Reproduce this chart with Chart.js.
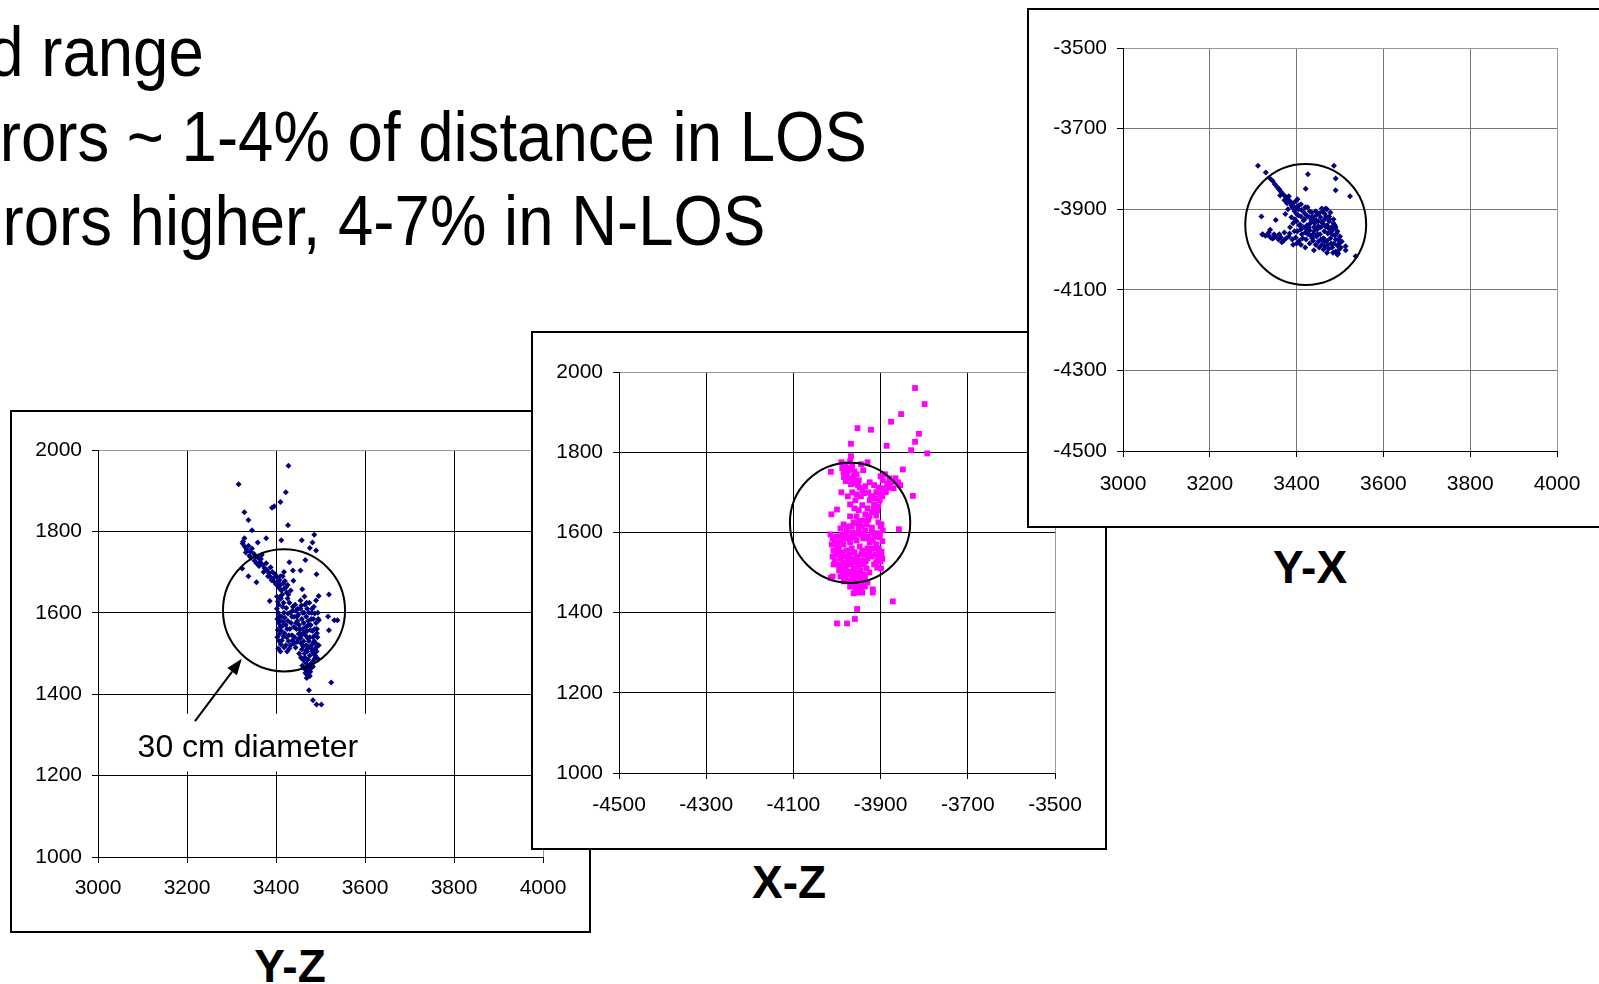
<!DOCTYPE html>
<html>
<head>
<meta charset="utf-8">
<script src="https://cdn.jsdelivr.net/npm/chart.js@4.4.0/dist/chart.umd.min.js"></script>
<style>
  html, body { margin: 0; padding: 0; background: #fff; }
  body { position: relative; width: 1599px; height: 984px; overflow: hidden; font-family: 'Liberation Sans', Arial, sans-serif; color: #000; }
  .line { position: absolute; font-size: 71px; line-height: 71px; white-space: nowrap; transform: scaleX(0.895); transform-origin: right center; }
  .frame { position: absolute; box-sizing: border-box; border: 2px solid #000; background: #fff; }
  .frame canvas { display: block; }
  .label { position: absolute; font-size: 46px; line-height: 46px; font-weight: bold; white-space: nowrap; transform: translateX(-50%); }
</style>
</head>
<body>

<div class="line" style="right:1395px; top:16px">d range</div>
<div class="line" style="right:732px; top:101px">rors ~ 1-4% of distance in LOS</div>
<div class="line" style="right:834px; top:185px">rors higher, 4-7% in N-LOS</div>

<div class="frame" style="left:10px; top:410px; width:581px; height:523px"><canvas id="yz" width="577" height="519"></canvas></div>
<div class="frame" style="left:531px; top:331px; width:576px; height:519px"><canvas id="xz" width="572" height="515"></canvas></div>
<div class="frame" style="left:1027px; top:8px; width:604px; height:520px"><canvas id="yx" width="600" height="516"></canvas></div>

<div class="label" style="left:290px; top:943px">Y-Z</div>
<div class="label" style="left:789px; top:859px">X-Z</div>
<div class="label" style="left:1310px; top:544px">Y-X</div>

<script>
// ---- tick labels ----
const yTicks = [3000, 3200, 3400, 3600, 3800, 4000];
const xTicks = [-4500, -4300, -4100, -3900, -3700, -3500];
const zTicks = [1000, 1200, 1400, 1600, 1800, 2000];
const xAsYTicks = [-4500, -4300, -4100, -3900, -3700, -3500];

// ---- Y-Z positions (Y, Z) ----
const yzPoints = [
  [3325,1770],[3330,1762],[3334,1755],[3338,1765],[3342,1750],[3346,1758],[3340,1740],[3350,1745],[3355,1738],[3352,1728],
  [3360,1735],[3364,1725],[3368,1742],[3362,1715],[3370,1718],[3374,1710],[3378,1722],[3380,1705],[3384,1698],[3388,1712],
  [3386,1690],[3392,1700],[3394,1685],[3398,1695],[3396,1676],[3402,1688],[3404,1672],[3408,1680],[3406,1662],[3410,1668],
  [3412,1655],[3415,1690],[3418,1700],[3420,1678],[3422,1662],[3424,1650],[3428,1645],[3414,1645],[3408,1638],
  [3402,1640],[3404,1628],[3406,1620],[3402,1610],[3405,1600],[3408,1592],[3403,1585],[3406,1575],[3410,1566],[3404,1558],
  [3408,1548],[3403,1540],[3407,1530],[3411,1522],[3405,1512],[3410,1505],[3415,1615],[3418,1600],[3420,1588],[3416,1578],
  [3422,1570],[3425,1560],[3419,1550],[3424,1540],[3428,1530],[3422,1520],[3430,1512],[3432,1600],[3436,1590],[3430,1625],
  [3426,1635],[3438,1615],[3434,1575],[3440,1565],
  [3445,1605],[3450,1595],[3455,1610],[3460,1600],[3465,1620],[3470,1610],[3475,1625],[3480,1600],[3485,1615],[3448,1580],
  [3452,1570],[3458,1585],[3462,1575],[3468,1590],[3472,1580],[3478,1570],[3484,1585],[3490,1575],[3446,1560],[3454,1550],
  [3460,1560],[3466,1545],[3470,1555],[3476,1540],[3482,1555],[3488,1545],[3492,1560],[3450,1535],[3456,1525],[3462,1530],
  [3468,1520],[3474,1530],[3480,1520],[3486,1530],[3490,1515],[3458,1510],[3464,1500],[3470,1505],[3476,1495],[3482,1505],
  [3488,1495],[3460,1485],[3466,1478],[3472,1485],[3478,1475],[3484,1482],[3462,1465],[3468,1458],[3474,1462],[3470,1448],
  [3476,1445],[3466,1452],[3480,1465],[3456,1490],[3452,1500],[3444,1515],[3440,1525],[3436,1545],[3442,1540],[3494,1600],
  [3490,1630],[3474,1600],[3464,1640],[3455,1630],
  [3332,1748],[3344,1735],[3356,1722],[3366,1732],[3372,1700],[3382,1690],[3390,1680],[3400,1670],[3410,1690],[3416,1672],
  [3419,1660],[3426,1668],[3433,1655],[3411,1635],[3417,1625],[3423,1612],[3427,1598],[3413,1590],[3409,1580],[3415,1568],
  [3412,1556],[3417,1542],[3413,1532],[3418,1515],[3425,1505],[3433,1520],[3437,1532],[3429,1545],[3431,1560],[3427,1580],
  [3437,1605],[3441,1590],[3445,1575],[3447,1590],[3443,1620],[3449,1610],[3453,1560],[3457,1545],[3463,1552],[3467,1565],
  [3471,1538],[3473,1570],[3477,1558],[3479,1585],[3483,1540],[3487,1560],[3489,1525],[3493,1540],[3485,1500],[3479,1512],
  [3473,1515],[3467,1508],[3461,1518],[3455,1538],[3451,1548],[3447,1528],[3459,1470],[3465,1490],[3471,1470],[3477,1455],
  [3483,1468],[3487,1488],[3491,1505],[3469,1440],[3473,1452],[3463,1600],[3469,1625],[3457,1618],[3481,1610],[3487,1598],
  [3495,1585],[3492,1550],[3496,1520],[3488,1510],[3484,1525],
  [3316,1916],[3428,1961],[3422,1896],[3329,1847],[3338,1828],[3410,1872],[3391,1858],[3396,1862],[3346,1803],[3427,1815],
  [3326,1775],[3329,1783],[3378,1783],[3359,1773],[3412,1778],[3458,1778],[3486,1792],[3482,1773],[3476,1759],[3490,1753],
  [3466,1730],[3430,1724],[3491,1695],[3455,1704],[3438,1704],[3338,1690],[3356,1675],[3324,1709],[3459,1658],[3496,1641],
  [3519,1645],[3439,1679],[3517,1591],[3531,1582],[3538,1582],[3496,1582],[3519,1557],[3524,1429],[3474,1410],[3483,1385],
  [3491,1375],[3502,1375],[3494,1487],[3386,1629]
];

// ---- X-Z positions (X, Z) ----
const xzPoints = [
  [-3990,1775],[-3985,1765],[-3980,1770],[-3975,1760],[-3970,1778],[-3968,1790],[-3965,1768],[-3960,1752],[-3985,1750],[-3978,1745],
  [-3972,1735],[-3962,1740],[-3955,1745],[-3950,1730],[-3945,1770],[-3940,1755],[-3930,1775],[-3980,1728],[-3968,1720],[-3958,1722],
  [-3948,1712],[-3942,1705],[-3935,1715],[-3925,1725],[-3915,1718],[-3990,1700],[-3975,1690],[-3965,1700],[-3955,1695],[-3945,1690],
  [-3900,1740],[-3895,1730],[-3890,1745],[-3885,1722],[-3880,1735],[-3875,1725],[-3870,1710],[-3905,1712],[-3910,1700],[-3900,1695],
  [-3918,1690],[-3925,1680],[-3915,1670],[-3905,1665],[-3930,1660],[-3920,1650],[-3910,1642],[-3935,1645],[-3928,1632],[-3940,1630],
  [-3895,1710],[-3888,1700],[-3882,1712],[-3860,1725],[-3855,1718],[-3866,1735],
  [-3905,1625],[-3900,1615],[-3895,1605],[-3908,1598],[-3902,1588],[-3896,1578],[-3910,1570],[-3904,1560],[-3898,1552],[-3912,1545],
  [-3906,1538],[-3900,1528],[-3915,1520],[-3908,1512],[-3920,1600],[-3918,1580],[-3922,1560],
  [-4010,1585],[-4005,1575],[-4000,1565],[-3995,1590],[-3990,1580],[-3985,1570],[-3980,1595],[-3975,1585],[-3970,1575],[-3965,1600],
  [-3960,1590],[-3955,1580],[-3950,1610],[-3945,1595],[-3940,1585],[-3935,1605],[-3930,1590],[-3925,1575],[-4008,1555],[-4002,1545],
  [-3996,1560],[-3990,1550],[-3984,1540],[-3978,1555],[-3972,1545],[-3966,1560],[-3960,1550],[-3954,1540],[-3948,1565],[-3942,1555],
  [-3936,1545],[-3930,1560],[-3926,1550],[-4005,1530],[-3998,1520],[-3992,1535],[-3986,1525],[-3980,1515],[-3974,1530],[-3968,1520],
  [-3962,1510],[-3956,1525],[-3950,1515],[-3944,1530],[-3938,1520],[-3932,1510],[-3995,1505],[-3988,1498],[-3982,1508],[-3976,1495],
  [-3970,1502],[-3964,1490],[-3958,1500],[-3952,1492],[-3946,1505],[-3940,1495],[-3975,1480],[-3968,1472],[-3962,1480],[-3956,1468],
  [-3950,1475],[-3944,1470],[-3938,1480],[-3930,1475],[-3958,1458],[-3952,1450],[-3970,1640],[-3962,1625],[-3955,1640],[-3948,1628],
  [-3975,1615],[-3985,1620],[-3992,1610],[-4015,1595],[-3960,1660],[-3950,1655],[-3942,1668],[-3958,1680],[-3970,1670],
  [-3988,1760],[-3976,1752],[-3966,1756],[-3984,1738],[-3962,1728],[-3952,1718],[-3938,1698],[-3928,1700],[-3922,1690],[-3912,1685],
  [-3902,1680],[-3896,1690],[-3908,1655],[-3916,1660],[-3926,1640],[-3932,1620],[-3944,1615],[-3952,1622],[-3966,1615],[-3978,1605],
  [-3988,1595],[-4002,1590],[-4012,1570],[-3998,1575],[-3982,1585],[-3968,1588],[-3952,1598],[-3938,1598],[-3928,1585],[-3920,1612],
  [-3914,1590],[-3912,1560],[-3920,1540],[-3930,1535],[-3944,1545],[-3958,1535],[-3972,1538],[-3988,1540],[-4000,1555],[-4010,1540],
  [-4008,1520],[-3994,1515],[-3978,1522],[-3964,1532],[-3948,1522],[-3934,1528],[-3926,1500],[-3936,1490],[-3950,1485],[-3966,1498],
  [-3980,1490],[-3992,1490],[-3984,1478],[-3970,1465],[-3960,1470],[-3946,1460],[-3936,1465],[-3962,1448],[-3942,1450],[-3904,1548],
  [-3898,1540],[-3910,1525],[-3902,1595],[-3898,1620],
  [-3821,1960],[-3799,1920],[-3853,1895],[-3876,1876],[-3953,1860],[-3922,1856],[-3968,1821],[-3812,1846],[-3821,1826],[-3830,1805],
  [-3793,1797],[-3886,1816],[-3849,1757],[-4014,1751],[-3826,1691],[-3858,1608],[-4013,1645],[-4000,1657],[-3872,1428],[-3954,1409],
  [-3959,1384],[-3977,1373],[-4000,1373],[-4014,1487],[-4010,1490],[-3918,1450],[-3918,1458],[-3899,1510],[-3896,1534]
];

// ---- Y-X positions (Y, X) ----
const yxPoints = [
  [3345,-3830],[3350,-3838],[3355,-3845],[3360,-3852],[3365,-3858],[3370,-3864],[3375,-3870],[3380,-3875],[3385,-3880],[3378,-3885],
  [3388,-3890],[3392,-3885],[3395,-3895],[3398,-3880],[3402,-3875],[3405,-3890],
  [3395,-3905],[3400,-3912],[3405,-3900],[3410,-3918],[3415,-3905],[3420,-3912],[3425,-3895],[3430,-3920],[3435,-3908],[3440,-3925],
  [3445,-3915],[3450,-3930],[3455,-3920],[3460,-3935],[3465,-3925],[3470,-3940],[3475,-3930],[3480,-3945],[3485,-3935],[3400,-3930],
  [3408,-3938],[3416,-3928],[3424,-3940],[3432,-3935],[3440,-3945],[3448,-3950],[3456,-3945],[3464,-3955],[3472,-3960],[3480,-3955],
  [3488,-3965],[3410,-3950],[3420,-3958],[3430,-3952],[3438,-3962],[3446,-3968],[3454,-3962],[3462,-3972],[3470,-3978],[3478,-3972],
  [3486,-3985],[3494,-3990],[3450,-3980],[3458,-3988],[3466,-3992],[3474,-3998],[3482,-3995],[3490,-4005],[3498,-4000],[3460,-3905],
  [3465,-3912],[3470,-3900],[3475,-3918],[3478,-3908],[3485,-3925],[3490,-3945],[3492,-3960],[3496,-3975],[3388,-3920],[3392,-3935],
  [3385,-3945],
  [3362,-3866],[3372,-3878],[3382,-3868],[3390,-3895],[3398,-3900],[3404,-3915],[3412,-3902],[3418,-3925],[3426,-3918],[3434,-3928],
  [3442,-3935],[3450,-3942],[3458,-3932],[3466,-3942],[3474,-3948],[3482,-3962],[3490,-3975],[3498,-3985],[3502,-3995],[3444,-3905],
  [3452,-3910],[3458,-3898],[3468,-3918],[3476,-3925],[3484,-3950],[3488,-3940],[3494,-3955],[3480,-3985],[3472,-3988],[3464,-3980],
  [3456,-3975],[3448,-3962],[3440,-3955],[3432,-3965],[3424,-3950],[3416,-3945],[3406,-3940],[3396,-3925],[3402,-3955],[3412,-3962],
  [3426,-3962],[3436,-3972],[3444,-3988],[3452,-3995],[3462,-4000],[3470,-4008],[3484,-4008],[3496,-4010],[3500,-3968],[3504,-3980],
  [3380,-3900],[3374,-3912],[3384,-3960],[3360,-3962],[3348,-3962],[3336,-3958],[3366,-3982],[3392,-3988],[3410,-3988],[3428,-3945],
  [3436,-3918],[3446,-3928],[3420,-3895],[3410,-3888],[3400,-3895],[3430,-3905],
  [3322,-3962],[3328,-3966],[3334,-3964],[3340,-3970],[3346,-3972],[3352,-3968],[3358,-3975],[3364,-3970],[3370,-3978],[3376,-3972],
  [3382,-3968],[3390,-3975],[3398,-3970],[3406,-3978],[3414,-3972],[3422,-3975],[3430,-3985],[3438,-3978],[3420,-3995],[3400,-3985],
  [3372,-3958],[3395,-3955],
  [3311,-3792],[3486,-3792],[3329,-3809],[3426,-3813],[3490,-3824],[3340,-3825],[3421,-3849],[3490,-3853],[3523,-3868],[3359,-3849],
  [3319,-3918],[3352,-3927],[3339,-3951],[3536,-4017],[3513,-3992],[3513,-4002],[3494,-4013],[3440,-4002],[3467,-3898],[3321,-3963],
  [3344,-3973]
];

// 30 cm diameter rings (centre, radius in mm)
const yzRing = [3418, 1606];
const xzRing = [-3970, 1624];
const yxRing = [3421, -3938];
const ringRadius = 150;

// "30 cm diameter" note on the Y-Z chart, in data units
const noteText = '30 cm diameter';
const noteAt = [3089, 1245];
const noteBox = [3071, 1352, 3615, 1210];
const arrowFrom = [3218, 1334];
const arrowTo = [3323, 1487];

const FONT = "'Liberation Sans', Arial, sans-serif";

const ringPlugin = {
  id: 'ring',
  afterDatasetsDraw(chart, args, opts) {
    if (!opts.center) return;
    const { ctx, scales: { x, y } } = chart;
    const cx = x.getPixelForValue(opts.center[0]);
    const cy = y.getPixelForValue(opts.center[1]);
    const r = Math.abs(y.getPixelForValue(opts.center[1] + opts.radius) - cy);
    ctx.save();
    ctx.beginPath();
    ctx.arc(cx, cy, r, 0, Math.PI * 2);
    ctx.lineWidth = 2;
    ctx.strokeStyle = '#000';
    ctx.stroke();
    ctx.restore();
  }
};

const notePlugin = {
  id: 'note',
  afterDraw(chart, args, opts) {
    if (!opts.text) return;
    const { ctx, scales: { x, y } } = chart;
    const bx0 = x.getPixelForValue(opts.box[0]), by0 = y.getPixelForValue(opts.box[1]);
    const bx1 = x.getPixelForValue(opts.box[2]), by1 = y.getPixelForValue(opts.box[3]);
    ctx.save();
    ctx.fillStyle = '#fff';
    ctx.fillRect(bx0, by0, bx1 - bx0, by1 - by0);
    ctx.fillStyle = '#000';
    ctx.font = '32px ' + FONT;
    ctx.textBaseline = 'alphabetic';
    ctx.fillText(opts.text, x.getPixelForValue(opts.at[0]), y.getPixelForValue(opts.at[1]));

    // arrow
    const x0 = x.getPixelForValue(opts.from[0]), y0 = y.getPixelForValue(opts.from[1]);
    const x1 = x.getPixelForValue(opts.to[0]), y1 = y.getPixelForValue(opts.to[1]);
    const a = Math.atan2(y1 - y0, x1 - x0);
    const hl = 16, hw = 6;
    const bx = x1 - Math.cos(a) * hl, by = y1 - Math.sin(a) * hl;
    ctx.strokeStyle = '#000';
    ctx.lineWidth = 2;
    ctx.beginPath();
    ctx.moveTo(x0, y0);
    ctx.lineTo(bx, by);
    ctx.stroke();
    ctx.beginPath();
    ctx.moveTo(x1, y1);
    ctx.lineTo(bx + Math.sin(a) * hw, by - Math.cos(a) * hw);
    ctx.lineTo(bx - Math.sin(a) * hw, by + Math.cos(a) * hw);
    ctx.closePath();
    ctx.fill();
    ctx.restore();
  }
};

function axis(ticks, opts) {
  const max = ticks[ticks.length - 1];
  return {
    type: 'linear',
    min: ticks[0],
    max: max,
    afterBuildTicks: s => { s.ticks = ticks.map(v => ({ value: v })); },
    afterFit: opts.fit,
    border: { display: true, color: '#000', width: 1 },
    grid: {
      color: c => (c.tick && c.tick.value === max) ? '#999' : opts.grid,
      lineWidth: 1,
      tickLength: 6,
      tickColor: '#000',
      drawTicks: true,
    },
    ticks: {
      color: '#000',
      font: { family: FONT, size: 21 },
      padding: opts.pad,
      autoSkip: false,
      maxRotation: 0,
      callback: v => String(v),
    },
  };
}

function scatter(canvasId, cfg) {
  const ctx = document.getElementById(canvasId).getContext('2d');
  return new Chart(ctx, {
    type: 'scatter',
    data: {
      datasets: [{
        data: cfg.points.map(p => ({ x: p[0], y: p[1] })),
        pointStyle: cfg.marker,
        pointRadius: cfg.radius,
        backgroundColor: cfg.color,
        borderWidth: 0,
      }],
    },
    options: {
      responsive: false,
      animation: false,
      devicePixelRatio: 1,
      layout: { padding: cfg.padding },
      scales: {
        x: axis(cfg.xTicks, { grid: cfg.grid, pad: cfg.xPad, fit: s => { s.height = 44; } }),
        y: axis(cfg.yTicks, { grid: cfg.grid, pad: 10, fit: s => { s.width = cfg.yWidth; } }),
      },
      plugins: {
        legend: { display: false },
        tooltip: { enabled: false },
        ring: { center: cfg.ring, radius: ringRadius },
        note: cfg.note || {},
      },
    },
    plugins: [ringPlugin, notePlugin],
  });
}

scatter('yz', {
  points: yzPoints, xTicks: yTicks, yTicks: zTicks,
  marker: 'rectRot', radius: 3, color: '#000080', grid: '#000',
  yWidth: 86, xPad: 13, padding: { left: 0, top: 38, right: 46, bottom: 30 },
  ring: yzRing,
  note: { text: noteText, at: noteAt, box: noteBox, from: arrowFrom, to: arrowTo },
});

scatter('xz', {
  points: xzPoints, xTicks: xTicks, yTicks: zTicks,
  marker: 'rect', radius: 4.1, color: '#ff00ff', grid: '#000',
  yWidth: 86, xPad: 14, padding: { left: 0, top: 39, right: 50, bottom: 31 },
  ring: xzRing,
});

scatter('yx', {
  points: yxPoints, xTicks: yTicks, yTicks: xAsYTicks,
  marker: 'rectRot', radius: 3, color: '#000080', grid: '#777',
  yWidth: 94, xPad: 15, padding: { left: 0, top: 38, right: 72, bottom: 31 },
  ring: yxRing,
});
</script>
</body>
</html>
